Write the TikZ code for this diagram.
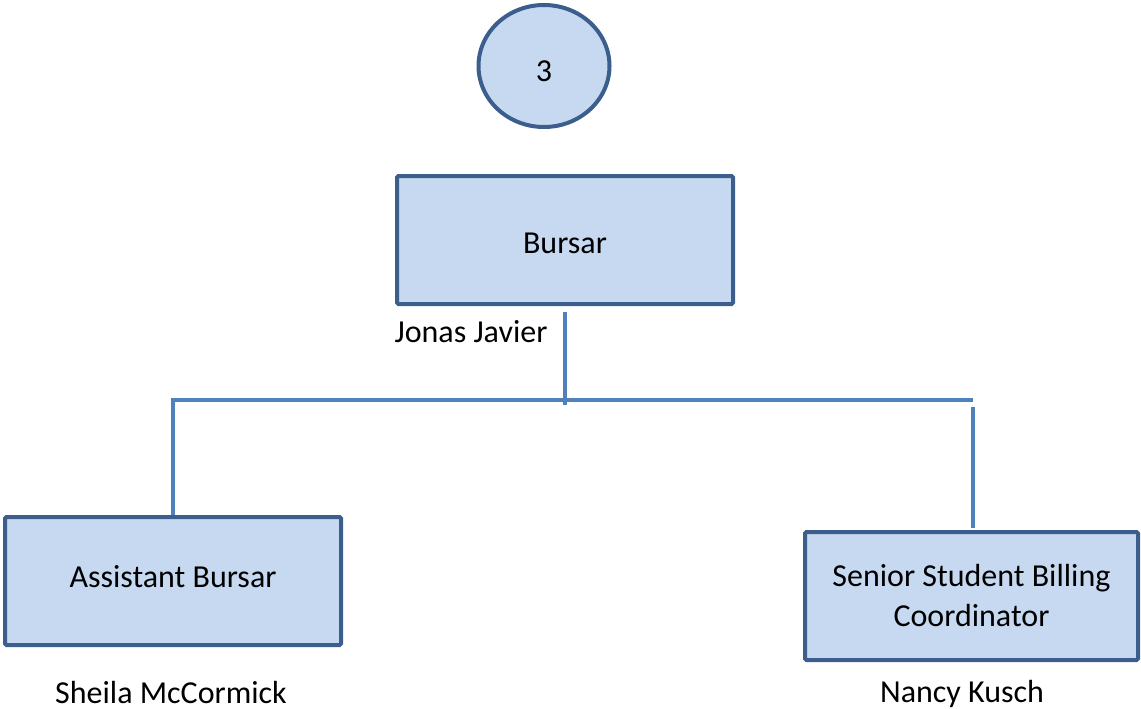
\documentclass[tikz,border=0pt]{standalone}
\usepackage{fontspec}
\setmainfont{Carlito}
\usetikzlibrary{shapes.geometric}
\definecolor{boxfill}{HTML}{C6D9F0}
\definecolor{boxline}{HTML}{3B5E8C}
\definecolor{conn}{HTML}{4F81BD}
\begin{document}
\begin{tikzpicture}[x=1pt,y=-1pt,
  every node/.style={font=\fontsize{32}{40}\selectfont, inner sep=0pt},
  posbox/.style={draw=boxline, fill=boxfill, line width=4pt, rectangle, rounded corners=1.5pt, minimum height=128pt, align=center},
  conline/.style={draw=conn, line width=4pt},
  namelbl/.style={anchor=base}]
\useasboundingbox (0,0) rectangle (1141,709);
\node[draw=boxline, fill=boxfill, line width=4pt, ellipse, minimum width=131pt, minimum height=122pt, text height=31pt, text depth=0pt] (num) at (544,66) {3};
\node[posbox, minimum width=336pt, text height=26pt, text depth=0pt] (bursar) at (565,240) {Bursar};
\node[posbox, minimum width=336pt, text height=16pt, text depth=4pt] (asst) at (173,581) {Assistant Bursar};
\node[posbox, minimum width=333pt] (senior) at (971.5,596) {Senior Student Billing\\Coordinator};
\node[namelbl] (jonas) at (471,342) {Jonas Javier};
\node[namelbl] (sheila) at (171,703) {Sheila McCormick};
\node[namelbl] (nancy) at (962,702) {Nancy Kusch};
\coordinate (jn) at (565,405);
\coordinate (hl) at (173,400);
\coordinate (hr) at (973,400);
\coordinate (hr2) at (973,407);
\draw[conline] ([yshift=-6pt]bursar.south) -- (jn);
\draw[conline] ([xshift=-2pt]hl) -- (hr);
\draw[conline] (hl) -- (hl |- asst.north);
\draw[conline] (hr2) -- ([yshift=2pt]hr2 |- senior.north);
\end{tikzpicture}
\end{document}
